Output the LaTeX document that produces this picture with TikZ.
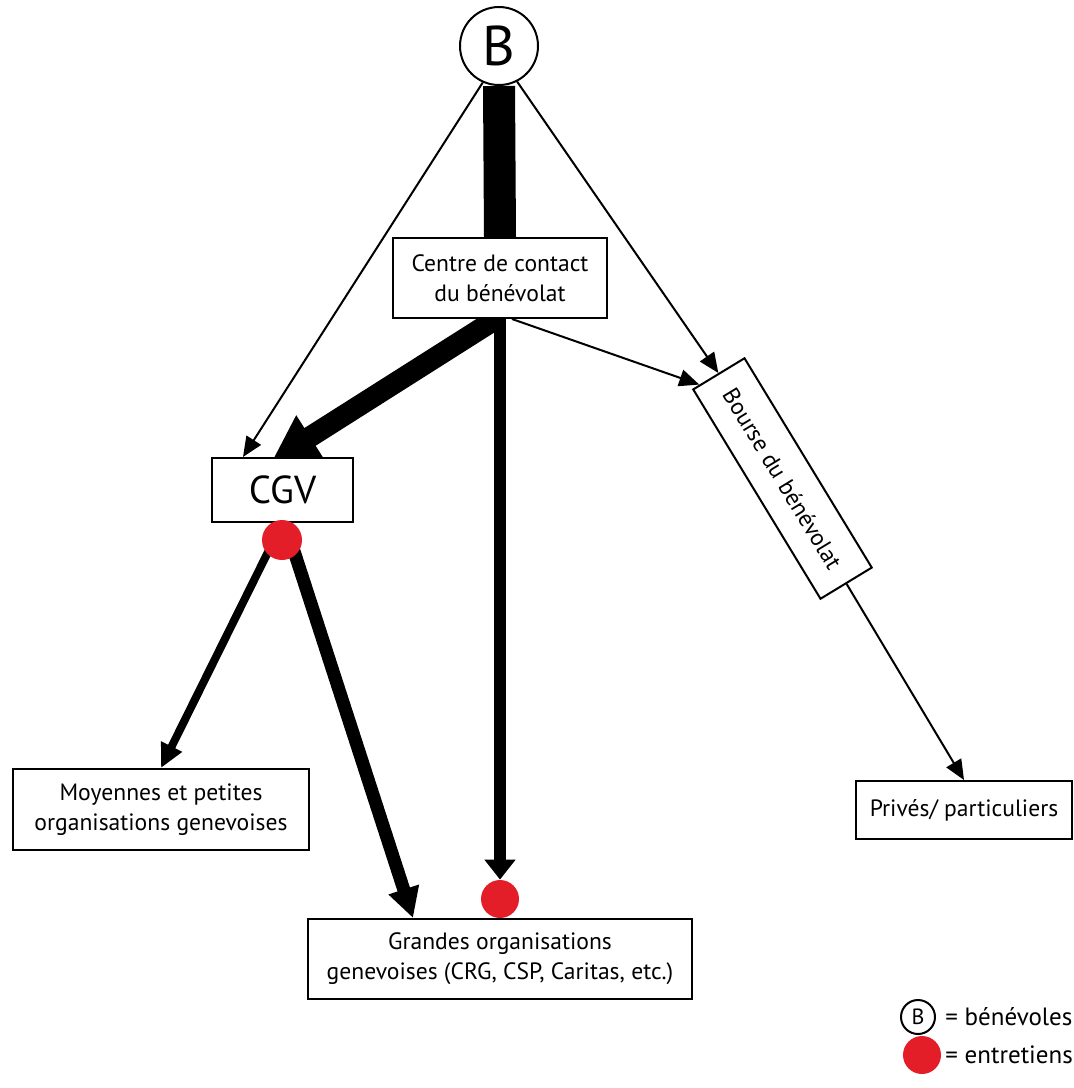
\documentclass[tikz,border=0pt]{standalone}
\usepackage{fontspec}
\setmainfont{PT Sans}
\usetikzlibrary{arrows.meta,calc}
\definecolor{dotred}{RGB}{228,30,40}
\pgfdeclarelayer{bg}
\pgfsetlayers{bg,main}
\begin{document}
\begin{tikzpicture}[x=0.5pt,y=-0.5pt,
  box/.style={draw, line width=1pt, fill=white, inner sep=0pt, align=center,
    font=\fontsize{11.8}{15}\selectfont},
  dotnode/.style={circle, fill=dotred, inner sep=0pt},
  thinarrow/.style={line width=1pt, -{Triangle[length=10pt,width=8.5pt]}},
  bigarrow/.style={line width=10.5pt, -{Triangle[length=22.5pt,width=24pt]}},
  vertarrow/.style={line width=6pt, -{Triangle[length=10pt,width=15pt]}},
  grarrow/.style={line width=6.5pt, -{Triangle[length=15pt,width=15pt]}},
  medarrow/.style={line width=4pt, -{Triangle[length=12pt,width=11pt]}}]
\useasboundingbox (0,0) rectangle (1074,1088);

\node[circle, draw, line width=1pt, fill=white, minimum size=39pt, inner sep=0pt,
  font=\fontsize{28}{28}\selectfont] (B) at (499,46) {B};
\node[box, minimum width=107pt, minimum height=40pt] (centre) at (500,278) {Centre de contact\\du bénévolat};
\node[box, minimum width=70.5pt, minimum height=32pt, font=\fontsize{19.5}{20}\selectfont] (cgv) at (282.5,490) {CGV};
\node[dotnode, minimum size=20pt] (d1) at (282,540) {};
\node[box, minimum width=148pt, minimum height=40.5pt] (moy) at (161,809.5) {Moyennes et petites\\organisations genevoises};
\node[box, minimum width=192pt, minimum height=40pt] (grandes) at (500,959) {Grandes organisations\\genevoises (CRG, CSP, Caritas, etc.)};
\node[dotnode, minimum size=19pt] (d2) at (500,899) {};
\node[box, rotate=-58.7, minimum width=122.5pt, minimum height=30pt] (bourse) at (782.5,478.5) {Bourse du bénévolat};
\node[box, minimum width=108pt, minimum height=29pt] (prives) at (964,810) {Privés/ particuliers};

% legend
\node[circle, draw, line width=1pt, minimum size=17pt, inner sep=0pt,
  font=\fontsize{11}{11}\selectfont] (lb) at (918,1017) {B};
\node[anchor=west, inner sep=0pt, font=\fontsize{12.5}{14}\selectfont] (lbt) at (945,1017) {= bénévoles};
\node[dotnode, minimum size=19pt] (ld) at (922,1055) {};
\node[anchor=west, inner sep=0pt, font=\fontsize{12.5}{14}\selectfont] (ldt) at (945,1055) {= entretiens};

\begin{pgfonlayer}{bg}
\draw[line width=16pt] (B.south) -- (centre.north);
\draw[thinarrow] (B.246) -- ([xshift=-19.75pt]cgv.north);
\draw[thinarrow] (B.297) -- (bourse.west);
\draw[thinarrow] ([xshift=6pt]centre.south) -- ($(bourse.west)!0.72!(bourse.south west)$);
\draw[bigarrow] ([xshift=-2pt]centre.south) -- ([xshift=-5.25pt,yshift=-2pt]cgv.north);
\draw[vertarrow] (centre.south) -- (d2.north);
\draw[medarrow] ([xshift=-6pt,yshift=-4pt]d1.center) -- (moy.north);
\draw[grarrow] ([xshift=5.5pt,yshift=-4pt]d1.center) -- ([xshift=-43.5pt]grandes.north);
\draw[thinarrow] (bourse.east) -- (prives.north);
\end{pgfonlayer}
\end{tikzpicture}
\end{document}
